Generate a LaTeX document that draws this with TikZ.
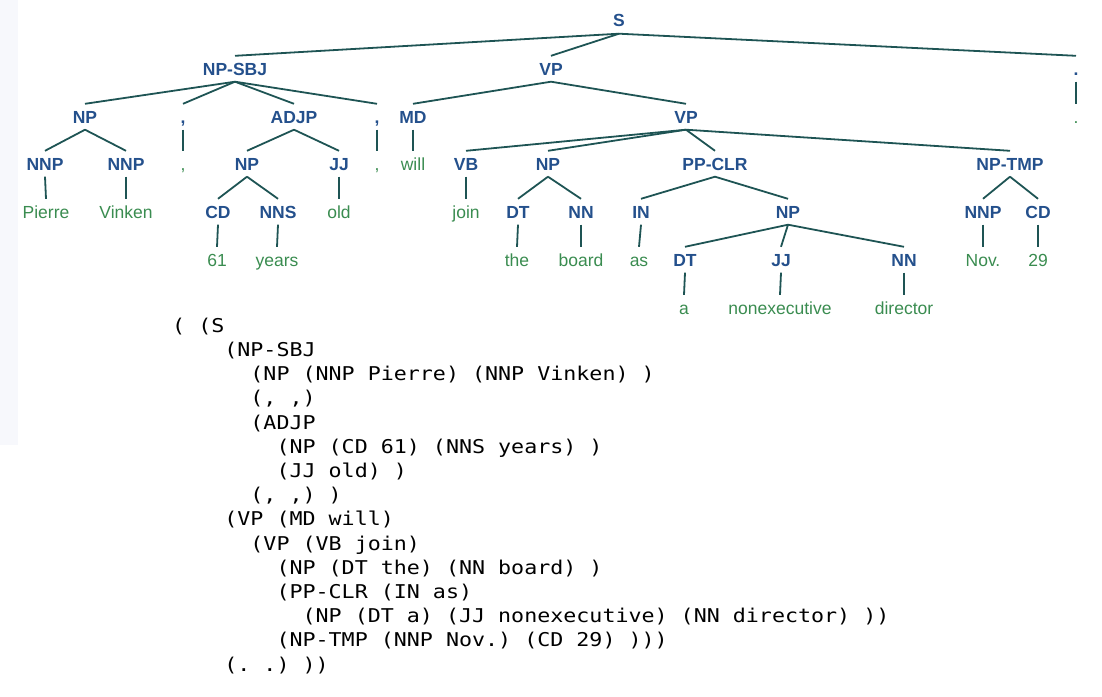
\documentclass[tikz,border=0pt]{standalone}
\usepackage{fontspec}
\usepackage{tikz}
\setmainfont{Liberation Sans}
\newfontfamily\bracketfont[FakeStretch=1.14]{DejaVu Sans Mono}
\definecolor{tagblue}{HTML}{24508C}
\definecolor{wordgreen}{HTML}{3A8C50}
\definecolor{linecol}{HTML}{1E5454}
\definecolor{leftshade}{HTML}{F7F8FC}

\begin{document}
\begin{tikzpicture}[x=1pt,y=-1pt]

      \useasboundingbox (0,0) rectangle (1102,696);
      \fill[leftshade] (0,0) rectangle (18,445);

      % phrase and part-of-speech tags
      \begin{scope}[every node/.style={anchor=base,text=tagblue,
          font=\bfseries\fontsize{17.5}{20}\selectfont,
          text height=12.5pt,text depth=0pt,inner ysep=6.5pt}]
        \node (s) at (619,27) {S};
        \node (npsbj) at (235,75) {NP-SBJ};
        \node (vpa) at (551,75) {VP};
        \node (dot) at (1076,75) {.};
        \node (npa) at (85,123) {NP};
        \node (coma) at (183,123) {,};
        \node (adjp) at (294,123) {ADJP};
        \node (comb) at (377,123) {,};
        \node (md) at (413,123) {MD};
        \node (vpb) at (686,123) {VP};
        \node (nnpa) at (45,170) {NNP};
        \node (nnpb) at (126,170) {NNP};
        \node (npb) at (247,170) {NP};
        \node (jja) at (339,170) {JJ};
        \node (vb) at (466,170) {VB};
        \node (npc) at (548,170) {NP};
        \node (ppclr) at (715,170) {PP-CLR};
        \node (nptmp) at (1010,170) {NP-TMP};
        \node (cda) at (218,218) {CD};
        \node (nns) at (278,218) {NNS};
        \node (dta) at (518,218) {DT};
        \node (nna) at (581,218) {NN};
        \node (inb) at (641,218) {IN};
        \node (npd) at (788,218) {NP};
        \node (nnpc) at (983,218) {NNP};
        \node (cdb) at (1038,218) {CD};
        \node (dtb) at (685,266) {DT};
        \node (jjb) at (781,266) {JJ};
        \node (nnb) at (904,266) {NN};
      \end{scope}

      % the words
      \begin{scope}[every node/.style={anchor=base,text=wordgreen,
          font=\fontsize{17.5}{20}\selectfont,
          text height=12.5pt,text depth=0pt,inner ysep=6.5pt}]
        \node (wdot) at (1076,123) {.};
        \node (wcoma) at (183,170) {,};
        \node (wcomb) at (377,170) {,};
        \node (will) at (413,170) {will};
        \node (pierre) at (46,218) {Pierre};
        \node (vinken) at (126,218) {Vinken};
        \node (old) at (339,218) {old};
        \node (join) at (466,218) {join};
        \node (w61) at (217,266) {61};
        \node (years) at (277,266) {years};
        \node (the) at (517,266) {the};
        \node (board) at (581,266) {board};
        \node (as) at (639,266) {as};
        \node (nov) at (983,266) {Nov.};
        \node (w29) at (1038,266) {29};
        \node (a) at (684,314) {a};
        \node (nonexec) at (780,314) {nonexecutive};
        \node (director) at (904,314) {director};
      \end{scope}

      \begin{scope}[every edge/.style={draw=linecol,line width=1.8pt}]
        \path (s.south) edge (npsbj.north);
        \path (s.south) edge (vpa.north);
        \path (s.south) edge (dot.north);
        \path (dot.south) edge (wdot.north);
        \path (npsbj.south) edge (npa.north);
        \path (npsbj.south) edge (coma.north);
        \path (npsbj.south) edge (adjp.north);
        \path (npsbj.south) edge (comb.north);
        \path (npa.south) edge (nnpa.north);
        \path (npa.south) edge (nnpb.north);
        \path (nnpa.south) edge (pierre.north);
        \path (nnpb.south) edge (vinken.north);
        \path (coma.south) edge (wcoma.north);
        \path (comb.south) edge (wcomb.north);
        \path (adjp.south) edge (npb.north);
        \path (adjp.south) edge (jja.north);
        \path (npb.south) edge (cda.north);
        \path (npb.south) edge (nns.north);
        \path (cda.south) edge (w61.north);
        \path (nns.south) edge (years.north);
        \path (jja.south) edge (old.north);
        \path (vpa.south) edge (md.north);
        \path (vpa.south) edge (vpb.north);
        \path (md.south) edge (will.north);
        \path (vpb.south) edge (vb.north);
        \path (vpb.south) edge (npc.north);
        \path (vpb.south) edge (ppclr.north);
        \path (vpb.south) edge (nptmp.north);
        \path (vb.south) edge (join.north);
        \path (npc.south) edge (dta.north);
        \path (npc.south) edge (nna.north);
        \path (dta.south) edge (the.north);
        \path (nna.south) edge (board.north);
        \path (ppclr.south) edge (inb.north);
        \path (ppclr.south) edge (npd.north);
        \path (inb.south) edge (as.north);
        \path (npd.south) edge (dtb.north);
        \path (npd.south) edge (jjb.north);
        \path (npd.south) edge (nnb.north);
        \path (dtb.south) edge (a.north);
        \path (jjb.south) edge (nonexec.north);
        \path (nnb.south) edge (director.north);
        \path (nptmp.south) edge (nnpc.north);
        \path (nptmp.south) edge (cdb.north);
        \path (nnpc.south) edge (nov.north);
        \path (cdb.south) edge (w29.north);
      \end{scope}

      % bracketed form of the same tree
      \node[anchor=north west,inner sep=0pt,align=left,
          font=\bracketfont\fontsize{19}{24.2}\selectfont\frenchspacing]
          (bracket) at (172,317)
          {\rule{0pt}{15pt}( (S\\
           ~~~~(NP-SBJ\\
           ~~~~~~(NP (NNP Pierre) (NNP Vinken) )\\
           ~~~~~~(, ,)\\
           ~~~~~~(ADJP\\
           ~~~~~~~~(NP (CD 61) (NNS years) )\\
           ~~~~~~~~(JJ old) )\\
           ~~~~~~(, ,) )\\
           ~~~~(VP (MD will)\\
           ~~~~~~(VP (VB join)\\
           ~~~~~~~~(NP (DT the) (NN board) )\\
           ~~~~~~~~(PP-CLR (IN as)\\
           ~~~~~~~~~~(NP (DT a) (JJ nonexecutive) (NN director) ))\\
           ~~~~~~~~(NP-TMP (NNP Nov.) (CD 29) )))\\
           ~~~~(. .) ))};
    \end{tikzpicture}
\end{document}
